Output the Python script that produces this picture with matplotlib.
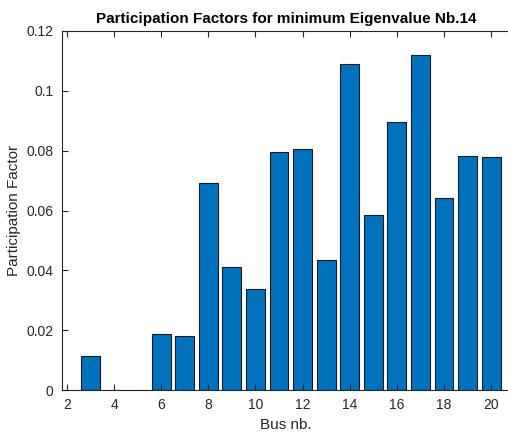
import matplotlib
matplotlib.use("Agg")
import matplotlib.pyplot as plt

plt.rcParams["font.family"] = ["Liberation Sans", "DejaVu Sans"]

# bus numbers and participation factors
buses = [3, 4, 5, 6, 7, 8, 9, 10, 11, 12, 13, 14, 15, 16, 17, 18, 19, 20]
factors = [0.0115, 0.0, 0.0, 0.0186, 0.0180, 0.0692, 0.0411, 0.0339, 0.0796,
           0.0806, 0.0435, 0.1090, 0.0585, 0.0896, 0.1120, 0.0642, 0.0782, 0.0779]
xticks = [2, 4, 6, 8, 10, 12, 14, 16, 18, 20]
yticks = [0, 0.02, 0.04, 0.06, 0.08, 0.1, 0.12]
yticklabels = ["0", "0.02", "0.04", "0.06", "0.08", "0.1", "0.12"]

W, H = 508, 432
fig = plt.figure(figsize=(W / 100, H / 100), dpi=100)
ax = fig.add_axes([62 / W, 42 / H, 448 / W, 359 / H])

ax.bar(buses, factors, width=0.8, color="#0072BD", edgecolor="#1a1a1a", linewidth=0.8)

ax.set_xlim(1.79, 20.8)
ax.set_ylim(0, 0.12)
ax.set_xticks(xticks)
ax.set_yticks(yticks)
ax.set_yticklabels(yticklabels)
ax.tick_params(direction="in", length=4, width=0.8, colors="#262626",
               labelsize=10, top=True, right=False, pad=6)
for s in ["left", "bottom", "top"]:
    ax.spines[s].set_color("#262626")
    ax.spines[s].set_linewidth(0.8)
ax.spines["right"].set_visible(False)

ax.set_xlabel("Bus nb.", fontsize=11, color="#262626")
ax.set_ylabel("Participation Factor", fontsize=11, color="#262626")
ax.set_title("Participation Factors for minimum Eigenvalue Nb.14",
             fontsize=11, fontweight="bold", pad=6)

fig.savefig("out.png", dpi=100)
